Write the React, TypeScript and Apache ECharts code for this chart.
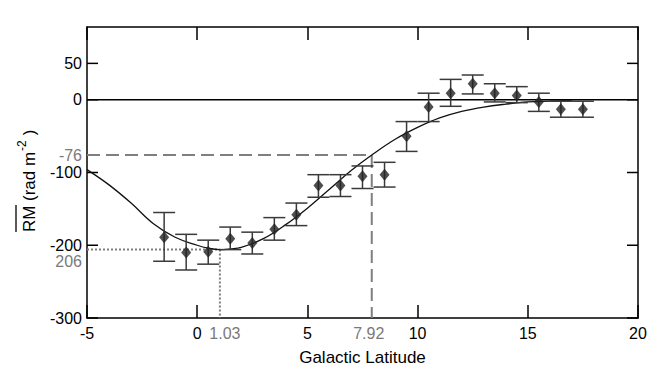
import React, { useEffect, useRef } from "react";
import * as echarts from "echarts";

// Axis ranges and ticks
const xMin = -5;
const xMax = 20;
const xInterval = 5;
const yMin = -300;
const yMax = 100;
const yTickValues = [50, 0, -100, -200, -300];

// Fitted model curve
const curveLat = [-5, -4, -3, -2, -1, 0, 0.5, 1, 1.5, 2, 3, 4, 5, 6, 7, 7.92, 9, 10, 11, 12, 13, 14, 15, 16, 17];
const curveRM = [-96, -117, -142, -170, -189, -200, -204, -206, -205, -203, -191, -172, -149, -123, -97, -76, -54, -38, -25, -16, -10, -6, -3, -2, -1];

// Observed mean RM with error bars
const latitude = [-1.5, -0.5, 0.5, 1.5, 2.5, 3.5, 4.5, 5.5, 6.5, 7.5, 8.5, 9.5, 10.5, 11.5, 12.5, 13.5, 14.5, 15.5, 16.5, 17.5];
const rmMean = [-189, -210, -209, -191, -197, -178, -158, -118, -118, -105, -103, -50, -10, 9, 22, 9, 6, -3, -13, -13];
const rmHigh = [-155, -185, -193, -175, -182, -162, -142, -103, -103, -91, -86, -30, 9, 28, 34, 22, 18, 9, -2, -2];
const rmLow = [-222, -234, -226, -206, -212, -193, -173, -134, -133, -122, -120, -71, -30, -9, 8, -3, -4, -16, -24, -24];

// Annotations
const peakLat = 1.03;
const peakRM = -206;
const peakLatLabel = "1.03";
const peakRMLabel = "206";
const halfLat = 7.92;
const halfRM = -76;
const halfLatLabel = "7.92";
const halfRMLabel = "-76";

const FONT = "'Liberation Sans', Arial, Helvetica, sans-serif";

export default function App() {
  const ref = useRef<HTMLDivElement>(null);

  useEffect(() => {
    document.body.style.margin = "0";
    const chart = echarts.init(ref.current!, undefined, { renderer: "svg" });

    const annotations = [
      [halfLat, halfRM, 0],
      [peakLat, peakRM, 1],
    ];
    const annLabels = [
      { x: halfLatLabel, y: halfRMLabel, dash: [13, 6], dx: -3, dy: 0 },
      { x: peakLatLabel, y: peakRMLabel, dash: [2, 2], dx: 5, dy: 12 },
    ];

    const option: any = {
      animation: false,
      textStyle: { fontFamily: FONT },
      grid: { left: 87, right: 26, top: 27, bottom: 56 },
      xAxis: [
        {
          type: "value",
          min: xMin,
          max: xMax,
          interval: xInterval,
          position: "bottom",
          name: "Galactic Latitude",
          nameLocation: "middle",
          nameGap: 31,
          nameTextStyle: { fontSize: 17, color: "#000", fontFamily: FONT },
          axisLine: { show: true, onZero: false, lineStyle: { color: "#000", width: 1.5 } },
          axisTick: { show: true, inside: true, length: 13, lineStyle: { color: "#000", width: 1.5 } },
          axisLabel: { fontSize: 16, color: "#000", margin: 7, fontFamily: FONT, showMinLabel: true, showMaxLabel: true },
          splitLine: { show: false },
        },
        {
          type: "value",
          min: xMin,
          max: xMax,
          interval: xInterval,
          position: "top",
          axisLine: { show: true, onZero: false, lineStyle: { color: "#000", width: 1.5 } },
          axisTick: { show: true, inside: true, length: 13, lineStyle: { color: "#000", width: 1.5 } },
          axisLabel: { show: false },
          splitLine: { show: false },
        },
      ],
      yAxis: [
        {
          type: "value",
          min: yMin,
          max: yMax,
          interval: 50,
          position: "left",
          axisLine: { show: true, onZero: false, lineStyle: { color: "#000", width: 1.5 } },
          axisTick: { show: false },
          axisLabel: {
            fontSize: 16,
            color: "#000",
            margin: 5,
            fontFamily: FONT,
            formatter: (v: number) => (yTickValues.indexOf(v) >= 0 ? String(v) : ""),
          },
          splitLine: { show: false },
        },
        {
          type: "value",
          min: yMin,
          max: yMax,
          interval: 50,
          position: "right",
          axisLine: { show: true, onZero: false, lineStyle: { color: "#000", width: 1.5 } },
          axisTick: { show: false },
          axisLabel: { show: false },
          splitLine: { show: false },
        },
      ],
      graphic: [
        {
          type: "group",
          x: 29,
          y: 232,
          rotation: Math.PI / 2,
          children: [
            {
              type: "text",
              x: 0,
              y: 0,
              style: { text: "RM", font: `17px ${FONT}`, fill: "#000", verticalAlign: "middle", align: "left" },
            },
            {
              type: "line",
              shape: { x1: 0, y1: -13, x2: 27, y2: -13 },
              style: { stroke: "#000", lineWidth: 1.3 },
            },
            {
              type: "text",
              x: 31,
              y: 0,
              style: { text: "(rad m", font: `17px ${FONT}`, fill: "#000", verticalAlign: "middle", align: "left" },
            },
            {
              type: "text",
              x: 81,
              y: -7,
              style: { text: "-2", font: `12px ${FONT}`, fill: "#000", verticalAlign: "middle", align: "left" },
            },
            {
              type: "text",
              x: 92,
              y: 0,
              style: { text: " )", font: `17px ${FONT}`, fill: "#000", verticalAlign: "middle", align: "left" },
            },
          ],
        },
      ],
      series: [
        {
          type: "line",
          name: "zero",
          data: [
            [xMin, 0],
            [xMax, 0],
          ],
          symbol: "none",
          lineStyle: { color: "#000", width: 1.5 },
          z: 2,
        },
        {
          type: "custom",
          name: "yticks",
          data: yTickValues.map((v) => [xMin, v]),
          z: 3,
          renderItem: (params: any, api: any) => {
            const v = api.value(1);
            const l = api.coord([xMin, v]);
            const r = api.coord([xMax, v]);
            return {
              type: "group",
              children: [
                { type: "line", shape: { x1: l[0], y1: l[1], x2: l[0] + 11, y2: l[1] }, style: { stroke: "#000", lineWidth: 1.5 } },
                { type: "line", shape: { x1: r[0], y1: r[1], x2: r[0] - 11, y2: r[1] }, style: { stroke: "#000", lineWidth: 1.5 } },
              ],
            };
          },
        },
        {
          type: "custom",
          name: "annotations",
          data: annotations,
          z: 4,
          renderItem: (params: any, api: any) => {
            const i = params.dataIndex;
            const x = api.value(0);
            const y = api.value(1);
            const lab = annLabels[i];
            const p = api.coord([x, y]);
            const left = api.coord([xMin, y]);
            const bottom = api.coord([x, yMin]);
            const stroke = "#7f7f7f";
            return {
              type: "group",
              children: [
                {
                  type: "line",
                  shape: { x1: left[0], y1: p[1], x2: p[0], y2: p[1] },
                  style: { stroke, lineWidth: 2, lineDash: lab.dash },
                },
                {
                  type: "line",
                  shape: { x1: p[0], y1: p[1], x2: p[0], y2: bottom[1] },
                  style: { stroke, lineWidth: 2, lineDash: lab.dash },
                },
                {
                  type: "text",
                  x: left[0] - 5,
                  y: p[1] + lab.dy,
                  style: {
                    text: lab.y,
                    font: `16px ${FONT}`,
                    fill: "#7a7a7a",
                    align: "right",
                    textAlign: "right",
                    verticalAlign: "middle",
                    textVerticalAlign: "middle",
                  },
                },
                {
                  type: "text",
                  x: p[0] + lab.dx,
                  y: bottom[1] + 7,
                  style: {
                    text: lab.x,
                    font: `16px ${FONT}`,
                    fill: "#7a7a7a",
                    align: "center",
                    textAlign: "center",
                    verticalAlign: "top",
                    textVerticalAlign: "top",
                  },
                },
              ],
            };
          },
        },
        {
          type: "line",
          name: "model",
          data: curveLat.map((x, i) => [x, curveRM[i]]),
          symbol: "none",
          smooth: 0.4,
          lineStyle: { color: "#111", width: 1.3 },
          z: 5,
        },
        {
          type: "custom",
          name: "errors",
          data: latitude.map((x, i) => [x, rmLow[i], rmHigh[i]]),
          z: 6,
          renderItem: (params: any, api: any) => {
            const x = api.value(0);
            const lo = api.coord([x, api.value(1)]);
            const hi = api.coord([x, api.value(2)]);
            const st = { stroke: "#3a3a3a", lineWidth: 1.5 };
            return {
              type: "group",
              children: [
                { type: "line", shape: { x1: lo[0], y1: lo[1], x2: hi[0], y2: hi[1] }, style: st },
                { type: "line", shape: { x1: lo[0] - 11, y1: lo[1], x2: lo[0] + 11, y2: lo[1] }, style: st },
                { type: "line", shape: { x1: hi[0] - 11, y1: hi[1], x2: hi[0] + 11, y2: hi[1] }, style: st },
              ],
            };
          },
        },
        {
          type: "scatter",
          name: "mean",
          data: latitude.map((x, i) => [x, rmMean[i]]),
          symbol: "diamond",
          symbolSize: [10, 12],
          itemStyle: { color: "#222" },
          z: 7,
        },
      ],
    };

    chart.setOption(option);
    return () => chart.dispose();
  }, []);

  return <div ref={ref} style={{ width: 664, height: 374 }} />;
}
